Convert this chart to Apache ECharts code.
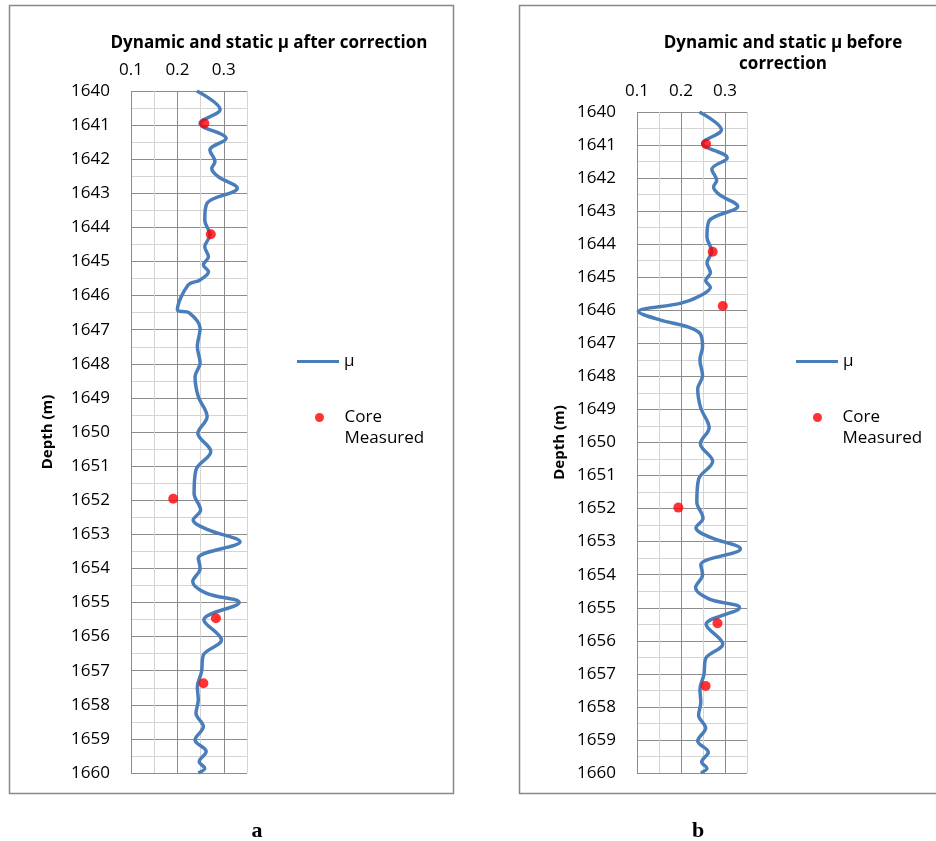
<!DOCTYPE html>
<html>
<head>
<meta charset="utf-8">
<script src="https://cdn.jsdelivr.net/npm/echarts@6/dist/echarts.min.js"></script>
<style>
  html, body { margin: 0; padding: 0; background: #fff; }
  #chart { width: 936px; height: 841px; }
</style>
</head>
<body>
<div id="chart"></div>
<script>
// depth (m) and mu
const depthAfter = [1640.00, 1640.54, 1640.95, 1641.39, 1641.73, 1642.07, 1642.27, 1642.51, 1642.85, 1643.29,
  1643.78, 1644.22, 1644.57, 1644.86, 1645.10, 1645.30, 1645.54, 1645.69, 1646.42, 1646.50,
  1646.96, 1647.50, 1647.98, 1648.38, 1648.96, 1649.55, 1650.04, 1650.57, 1651.11, 1651.80,
  1652.29, 1652.58, 1652.87, 1653.22, 1653.70, 1654.00, 1654.39, 1654.73, 1655.00, 1655.51,
  1656.10, 1656.54, 1657.03, 1657.47, 1657.86, 1658.25, 1658.64, 1659.03, 1659.37, 1659.67,
  1659.86, 1660.00];
const muAfter = [0.242, 0.292, 0.249, 0.305, 0.270, 0.281, 0.274, 0.288, 0.329, 0.264,
  0.259, 0.270, 0.259, 0.267, 0.256, 0.267, 0.249, 0.223, 0.200, 0.225,
  0.249, 0.243, 0.249, 0.238, 0.245, 0.264, 0.244, 0.272, 0.240, 0.236,
  0.250, 0.234, 0.267, 0.335, 0.245, 0.249, 0.233, 0.263, 0.333, 0.257,
  0.295, 0.256, 0.252, 0.243, 0.245, 0.240, 0.256, 0.238, 0.262, 0.247,
  0.259, 0.245];

const depthBefore = [1640.00, 1640.54, 1640.95, 1641.39, 1641.73, 1642.07, 1642.27, 1642.51, 1642.85, 1643.29,
  1643.78, 1644.22, 1644.57, 1644.86, 1645.10, 1645.30, 1645.59, 1645.79, 1646.04, 1646.29,
  1646.49, 1646.70, 1647.10, 1647.50, 1647.98, 1648.38, 1648.96, 1649.55, 1650.04, 1650.57,
  1651.11, 1651.80, 1652.29, 1652.58, 1652.87, 1653.22, 1653.70, 1654.00, 1654.39, 1654.73,
  1655.00, 1655.51, 1656.10, 1656.54, 1657.03, 1657.47, 1657.86, 1658.25, 1658.64, 1659.03,
  1659.37, 1659.67, 1659.86, 1660.00];
const muBefore = [0.242, 0.292, 0.249, 0.305, 0.270, 0.281, 0.274, 0.288, 0.329, 0.264,
  0.259, 0.270, 0.259, 0.267, 0.256, 0.267, 0.239, 0.198, 0.103, 0.152,
  0.213, 0.243, 0.249, 0.243, 0.249, 0.238, 0.245, 0.264, 0.244, 0.272,
  0.240, 0.236, 0.250, 0.234, 0.267, 0.335, 0.245, 0.249, 0.233, 0.263,
  0.333, 0.257, 0.295, 0.256, 0.252, 0.243, 0.245, 0.240, 0.256, 0.238,
  0.262, 0.247, 0.259, 0.245];

const coreDepthA = [1640.95, 1644.20, 1651.96, 1655.46, 1657.37];
const coreMuA = [0.258, 0.272, 0.191, 0.283, 0.256];
const coreDepthB = [1640.97, 1644.23, 1645.87, 1651.97, 1655.47, 1657.37];
const coreMuB = [0.257, 0.272, 0.295, 0.194, 0.283, 0.256];

const titles = ["Dynamic and static \u03bc after correction", "Dynamic and static \u03bc before\ncorrection"];
const panelLabels = ["a", "b"];

const font = "'Open Sans', sans-serif";
const lineColor = "#4a7ebb";

const zip = (xs, ys) => xs.map((x, i) => [x, ys[i]]);

const xAxisOf = idx => ({
  type: "value",
  gridIndex: idx,
  position: "top",
  min: 0.1,
  max: 0.35,
  interval: 0.05,
  axisLine: { show: false },
  axisTick: { show: false },
  axisLabel: {
    color: "#000",
    fontFamily: font,
    fontSize: 17,
    margin: 12,
    formatter: v => {
      const k = Math.round(v * 100);
      return k % 10 === 0 && k <= 30 ? (k / 100).toFixed(1) : "";
    }
  },
  splitLine: { lineStyle: { color: ["#8c8c8c", "#d4d4d4"], width: 1 } }
});

const yAxisOf = (idx, gap) => ({
  type: "value",
  gridIndex: idx,
  inverse: true,
  min: 1640,
  max: 1660,
  interval: 0.5,
  name: "Depth (m)",
  nameLocation: "middle",
  nameGap: gap,
  nameTextStyle: { color: "#000", fontFamily: font, fontSize: 15, fontWeight: "bold" },
  axisLine: { show: false },
  axisTick: { show: false },
  axisLabel: {
    color: "#000",
    fontFamily: font,
    fontSize: 17,
    margin: 21,
    formatter: v => (Math.abs(v - Math.round(v)) < 1e-6 ? String(Math.round(v)) : "")
  },
  splitLine: { lineStyle: { color: ["#8c8c8c", "#d4d4d4"], width: 1 } }
});

const muLegend = (left, top) => ({
  data: ["\u03bc"],
  left: left,
  top: top,
  padding: 0,
  icon: "rect",
  itemWidth: 42,
  itemHeight: 3,
  selectedMode: false,
  textStyle: { color: "#000", fontFamily: font, fontSize: 17 }
});

const coreLegend = (left, top) => ({
  data: ["Core Measured"],
  left: left,
  top: top,
  padding: 0,
  itemWidth: 40,
  itemHeight: 9,
  selectedMode: false,
  // blank first line keeps "Core" level with the dot
  formatter: () => "\nCore\nMeasured",
  textStyle: { color: "#000", fontFamily: font, fontSize: 17, lineHeight: 21 }
});

const chart = echarts.init(document.getElementById("chart"));

const option = {
  animation: false,
  backgroundColor: "#fff",
  title: [
    {
      text: titles[0], left: 264, top: 30, textAlign: "center",
      textStyle: { fontFamily: font, fontSize: 17, fontWeight: "bold", color: "#000" }
    },
    {
      text: titles[1], left: 778, top: 28, textAlign: "center",
      textStyle: { fontFamily: font, fontSize: 17, fontWeight: "bold", color: "#000", lineHeight: 21 }
    },
    {
      text: panelLabels[0], left: 252, top: 815, textAlign: "center",
      textStyle: { fontFamily: "'Liberation Serif', serif", fontSize: 22, fontWeight: "bold", color: "#000" }
    },
    {
      text: panelLabels[1], left: 693, top: 815, textAlign: "center",
      textStyle: { fontFamily: "'Liberation Serif', serif", fontSize: 22, fontWeight: "bold", color: "#000" }
    }
  ],
  legend: [
    muLegend(297, 353),
    coreLegend(315, 386),
    muLegend(796, 353),
    coreLegend(813, 386)
  ],
  grid: [
    { left: 131, top: 91, width: 116, height: 682 },
    { left: 637, top: 112, width: 110, height: 661 }
  ],
  xAxis: [xAxisOf(0), xAxisOf(1)],
  yAxis: [yAxisOf(0, 76), yAxisOf(1, 70)],
  series: [
    {
      name: "\u03bc", type: "line", xAxisIndex: 0, yAxisIndex: 0,
      data: zip(muAfter, depthAfter), smooth: 0.35, symbol: "none",
      lineStyle: { color: lineColor, width: 3.5 }, itemStyle: { color: lineColor }
    },
    {
      name: "Core Measured", type: "scatter", xAxisIndex: 0, yAxisIndex: 0,
      data: zip(coreMuA, coreDepthA), symbolSize: 10, itemStyle: { color: "#ff0000" }, z: 5
    },
    {
      name: "\u03bc", type: "line", xAxisIndex: 1, yAxisIndex: 1,
      data: zip(muBefore, depthBefore), smooth: 0.35, symbol: "none",
      lineStyle: { color: lineColor, width: 3.5 }, itemStyle: { color: lineColor }
    },
    {
      name: "Core Measured", type: "scatter", xAxisIndex: 1, yAxisIndex: 1,
      data: zip(coreMuB, coreDepthB), symbolSize: 10, itemStyle: { color: "#ff0000" }, z: 5
    }
  ],
  graphic: [
    // panel frames
    { type: "rect", shape: { x: 9.5, y: 5.5, width: 444, height: 788 },
      style: { fill: null, stroke: "#888", lineWidth: 1.5 }, silent: true },
    { type: "rect", shape: { x: 519.5, y: 5.5, width: 430, height: 788 },
      style: { fill: null, stroke: "#888", lineWidth: 1.5 }, silent: true }
  ]
};

chart.setOption(option);
</script>
</body>
</html>
